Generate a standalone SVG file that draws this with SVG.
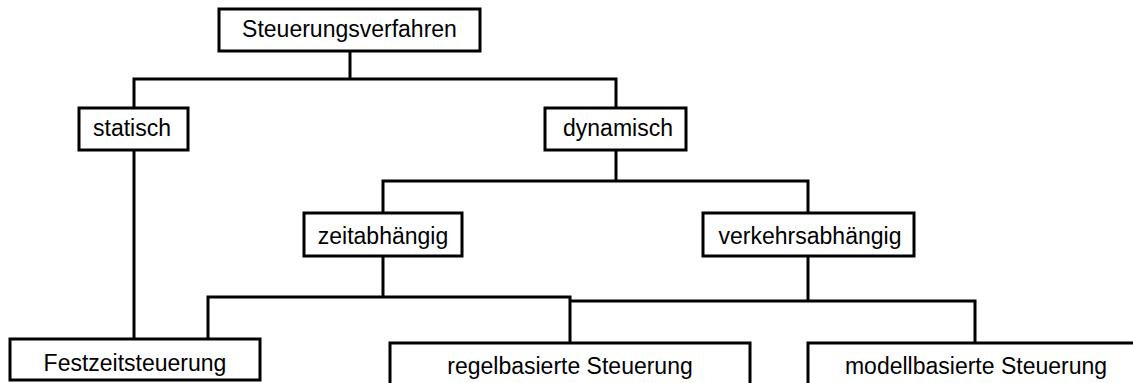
<svg xmlns="http://www.w3.org/2000/svg" width="1133" height="383" viewBox="0 0 1133 383">
<style>
.box{fill:#fff;stroke:#000;stroke-width:3}
.lbl{font-family:"Liberation Sans",Arial,sans-serif;font-size:23px;fill:#000;text-anchor:middle}
.con{fill:none;stroke:#000;stroke-width:3}
</style>
<rect width="1133" height="383" fill="#fff"/>
<g id="connectors">
<path class="con" d="M350,52 V79"/>
<path class="con" d="M134,108 V79 H616 V108"/>
<path class="con" d="M616,150 V181"/>
<path class="con" d="M383,213 V181 H808 V213"/>
<path class="con" d="M134,150 V339"/>
<path class="con" d="M383,256 V297"/>
<path class="con" d="M208,339 V297 H570 V343"/>
<path class="con" d="M808,256 V301"/>
<path class="con" d="M570,301 H975 V343"/>
</g>
<g id="n-steuerungsverfahren"><rect class="box" x="219" y="9" width="261" height="42"/><text class="lbl" x="349.5" y="37">Steuerungsverfahren</text></g>
<g id="n-statisch"><rect class="box" x="79" y="108" width="109" height="42"/><text class="lbl" x="132" y="136">statisch</text></g>
<g id="n-dynamisch"><rect class="box" x="545" y="108" width="141" height="42"/><text class="lbl" x="618" y="136">dynamisch</text></g>
<g id="n-zeitabhaengig"><rect class="box" x="304" y="213" width="158" height="43"/><text class="lbl" x="383" y="244">zeitabhängig</text></g>
<g id="n-verkehrsabhaengig"><rect class="box" x="703" y="213" width="211" height="43"/><text class="lbl" x="810" y="244">verkehrsabhängig</text></g>
<g id="n-festzeitsteuerung"><rect class="box" x="10" y="339" width="250" height="41"/><text class="lbl" x="135" y="371">Festzeitsteuerung</text></g>
<g id="n-regelbasiert"><rect class="box" x="390" y="343" width="360" height="60"/><text class="lbl" x="570" y="374">regelbasierte Steuerung</text></g>
<g id="n-modellbasiert"><rect class="box" x="808" y="343" width="340" height="60"/><text class="lbl" x="976" y="374">modellbasierte Steuerung</text></g>
</svg>
